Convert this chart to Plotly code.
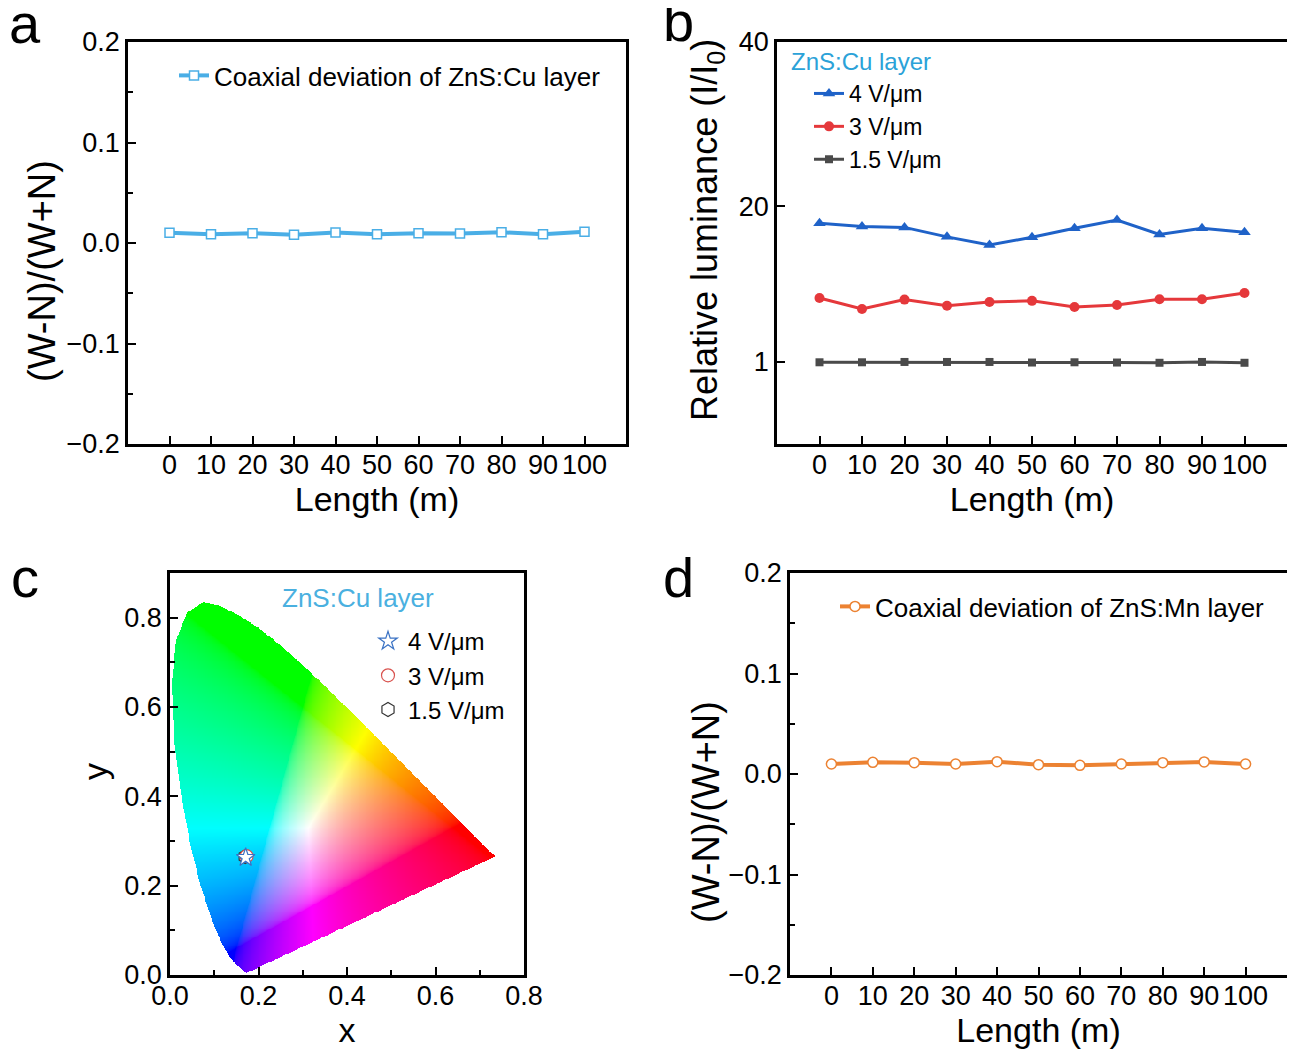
import numpy as np
import plotly.graph_objects as go

FONT = "Liberation Sans, Arial, sans-serif"
OFF = 8                       # page body margin of the html page
W, H = 1295 - OFF, 1054 - OFF

# ---------------- data ----------------
length_m = [0, 10, 20, 30, 40, 50, 60, 70, 80, 90, 100]
dev_cu = [0.0101, 0.0087, 0.0097, 0.0081, 0.0104, 0.0087, 0.0097, 0.0094, 0.0107, 0.0087, 0.0111]
dev_mn = [0.0100, 0.0116, 0.0113, 0.0100, 0.0123, 0.0093, 0.0086, 0.0100, 0.0113, 0.0120, 0.0100]
lum_4 = [17.9, 17.5, 17.4, 16.25, 15.25, 16.2, 17.3, 18.3, 16.55, 17.3, 16.8]
lum_3 = [8.8, 7.45, 8.6, 7.85, 8.3, 8.45, 7.7, 7.95, 8.65, 8.65, 9.4]
lum_15 = [0.96, 0.96, 1.0, 1.0, 1.0, 0.93, 0.96, 0.93, 0.9, 1.0, 0.9]
lum_ticks = [1, 20, 40]

cie_4_x, cie_4_y = [0.171], [0.263]
cie_3_x, cie_3_y = [0.173], [0.266]
cie_15_x, cie_15_y = [0.170], [0.265]

# CIE 1931 2-degree spectral locus (x, y), 380-700 nm in 5 nm steps
locus_x = [0.1741, 0.1740, 0.1738, 0.1736, 0.1733, 0.1730, 0.1726, 0.1721, 0.1714, 0.1703,
           0.1689, 0.1669, 0.1644, 0.1611, 0.1566, 0.1510, 0.1440, 0.1355, 0.1241, 0.1096,
           0.0913, 0.0687, 0.0454, 0.0235, 0.0082, 0.0039, 0.0139, 0.0389, 0.0743, 0.1142,
           0.1547, 0.1929, 0.2296, 0.2658, 0.3016, 0.3373, 0.3731, 0.4087, 0.4441, 0.4788,
           0.5125, 0.5448, 0.5752, 0.6029, 0.6270, 0.6482, 0.6658, 0.6801, 0.6915, 0.7006,
           0.7079, 0.7140, 0.7190, 0.7230, 0.7260, 0.7283, 0.7300, 0.7311, 0.7320, 0.7327,
           0.7334, 0.7340, 0.7344, 0.7346, 0.7347]
locus_y = [0.0050, 0.0050, 0.0049, 0.0049, 0.0048, 0.0048, 0.0048, 0.0048, 0.0051, 0.0058,
           0.0069, 0.0086, 0.0109, 0.0138, 0.0177, 0.0227, 0.0297, 0.0399, 0.0578, 0.0868,
           0.1327, 0.2007, 0.2950, 0.4127, 0.5384, 0.6548, 0.7502, 0.8120, 0.8338, 0.8262,
           0.8059, 0.7816, 0.7543, 0.7243, 0.6923, 0.6589, 0.6245, 0.5896, 0.5547, 0.5202,
           0.4866, 0.4544, 0.4242, 0.3965, 0.3725, 0.3514, 0.3340, 0.3197, 0.3083, 0.2993,
           0.2920, 0.2859, 0.2809, 0.2770, 0.2740, 0.2717, 0.2700, 0.2689, 0.2680, 0.2673,
           0.2666, 0.2660, 0.2656, 0.2654, 0.2653]

# ---------------- chromaticity background ----------------
dx = 0.002
dy = 0.002
nx = int(round(0.8 / dx))
ny = int(round(0.9 / dy))
gx = (np.arange(nx) + 0.5) * dx
gy = (np.arange(ny) + 0.5) * dy
PX, PY = np.meshgrid(gx, gy)
vx = np.array(locus_x)
vy = np.array(locus_y)
inside = np.zeros(PX.shape, dtype=bool)
n = len(vx)
for i in range(n):
    j = i - 1
    xi, yi, xj, yj = vx[i], vy[i], vx[j], vy[j]
    cond = ((yi > PY) != (yj > PY)) & (PX < (xj - xi) * (PY - yi) / (yj - yi + 1e-12) + xi)
    inside ^= cond
Xc = PX / PY
Yc = np.ones_like(PX)
Zc = (1 - PX - PY) / PY
R = 3.2406 * Xc - 1.5372 * Yc - 0.4986 * Zc
G = -0.9689 * Xc + 1.8758 * Yc + 0.0415 * Zc
B = 0.0557 * Xc - 0.2040 * Yc + 1.0570 * Zc
rgb = np.stack([R, G, B], axis=-1)
rgb = np.clip(rgb, 0, None)
mx = rgb.max(axis=-1, keepdims=True)
mx[mx == 0] = 1
rgb = rgb / mx
rgb = np.where(rgb <= 0.0031308, 12.92 * rgb, 1.055 * np.power(rgb, 1 / 2.4) - 0.055)
rgba = np.zeros((ny, nx, 4), dtype=np.uint8)
rgba[..., :3] = np.clip(rgb * 255, 0, 255).astype(np.uint8)
rgba[..., 3] = np.where(inside, 255, 0).astype(np.uint8)
rgba[~inside, :3] = 255

# ---------------- figure ----------------
fig = go.Figure()

c_cu = "#4aaee6"
c_blue = "#1f62c8"
c_red = "#e5383b"
c_gray = "#4a4a4a"
c_orange = "#ec8232"
c_title = "#2ba2d8"

# panel a
fig.add_trace(go.Scatter(
    x=length_m, y=dev_cu, mode="lines+markers", name="Coaxial deviation of ZnS:Cu layer",
    line=dict(color=c_cu, width=4),
    marker=dict(symbol="square", size=9, color="white", line=dict(color=c_cu, width=1.5)),
    xaxis="x", yaxis="y", legend="legend"))

# panel b
fig.add_trace(go.Scatter(
    x=length_m, y=lum_4, mode="lines+markers", name="4 V/μm",
    line=dict(color=c_blue, width=3),
    marker=dict(symbol="triangle-up", size=11, color=c_blue),
    xaxis="x2", yaxis="y2", legend="legend2"))
fig.add_trace(go.Scatter(
    x=length_m, y=lum_3, mode="lines+markers", name="3 V/μm",
    line=dict(color=c_red, width=3),
    marker=dict(symbol="circle", size=10, color=c_red),
    xaxis="x2", yaxis="y2", legend="legend2"))
fig.add_trace(go.Scatter(
    x=length_m, y=lum_15, mode="lines+markers", name="1.5 V/μm",
    line=dict(color=c_gray, width=3),
    marker=dict(symbol="square", size=8, color=c_gray),
    xaxis="x2", yaxis="y2", legend="legend2"))

# panel c
fig.add_trace(go.Image(
    z=rgba.tolist(), colormodel="rgba256", x0=dx / 2, dx=dx, y0=dy / 2, dy=dy,
    xaxis="x3", yaxis="y3", hoverinfo="skip"))
fig.add_trace(go.Scatter(
    x=cie_15_x, y=cie_15_y, mode="markers", name="1.5 V/μm",
    marker=dict(symbol="hexagon", size=14, color="white", line=dict(color="#333333", width=1.2)),
    xaxis="x3", yaxis="y3", legend="legend3", legendrank=3))
fig.add_trace(go.Scatter(
    x=cie_3_x, y=cie_3_y, mode="markers", name="3 V/μm",
    marker=dict(symbol="circle", size=13, color="white", line=dict(color="#d9534f", width=1.2)),
    xaxis="x3", yaxis="y3", legend="legend3", legendrank=2))
fig.add_trace(go.Scatter(
    x=cie_4_x, y=cie_4_y, mode="markers", name="4 V/μm",
    marker=dict(symbol="star", size=14, color="white", line=dict(color="#3a72c4", width=1.2)),
    xaxis="x3", yaxis="y3", legend="legend3", legendrank=1))

# panel d
fig.add_trace(go.Scatter(
    x=length_m, y=dev_mn, mode="lines+markers", name="Coaxial deviation of ZnS:Mn layer",
    line=dict(color=c_orange, width=4),
    marker=dict(symbol="circle", size=10, color="white", line=dict(color=c_orange, width=1.5)),
    xaxis="x4", yaxis="y4", legend="legend4"))


# screen pixel (in the 1295x1054 window) -> paper coordinate
def sx(p):
    return (p - OFF) / W


def sy(p):
    return 1 - (p - OFF) / H


def px_x(a, b):
    return [sx(a), sx(b)]


def px_y(top, bottom):
    return [sy(bottom), sy(top)]


base = dict(showline=True, linecolor="black", linewidth=2.5, mirror=True,
            ticks="inside", ticklen=8, tickwidth=2, tickcolor="black",
            showgrid=False, zeroline=False, automargin=False,
            tickfont=dict(family=FONT, size=27, color="black"))


def ax(**kw):
    d = dict(base)
    d.update(kw)
    return d


len_title = dict(text="Length (m)", font=dict(family=FONT, size=34, color="black"), standoff=4)
minor_dev = dict(ticks="inside", tickvals=[-0.15, -0.05, 0.05, 0.15], ticklen=5, tickwidth=2, tickcolor="black")
minor_cie = dict(ticks="inside", tickvals=[0.1, 0.3, 0.5, 0.7], ticklen=5, tickwidth=2, tickcolor="black")
dev_vals = [-0.2, -0.1, 0.0, 0.1, 0.2]
dev_text = ["\u22120.2", "\u22120.1", "0.0", "0.1", "0.2"]
cie_vals = [0, 0.2, 0.4, 0.6, 0.8]
cie_text = ["0.0", "0.2", "0.4", "0.6", "0.8"]

fig.update_layout(
    width=W, height=H, margin=dict(l=0, r=0, t=0, b=0, autoexpand=False),
    paper_bgcolor="white", plot_bgcolor="white",
    font=dict(family=FONT, color="black"),
    showlegend=True,
    xaxis=ax(domain=px_x(128, 626), range=[-10, 110], tickvals=length_m, anchor="y",
             ticklabelstandoff=-5, title=len_title),
    yaxis=ax(domain=px_y(42, 444), range=[-0.2, 0.2], tickvals=dev_vals, ticktext=dev_text,
             anchor="x", minor=minor_dev),
    xaxis2=ax(domain=px_x(777, 1287), range=[-10, 110], tickvals=length_m, anchor="y2",
              ticklabelstandoff=-5, title=len_title),
    yaxis2=ax(domain=px_y(42, 444), range=[-9, 40], tickvals=lum_ticks, anchor="x2"),
    xaxis3=ax(domain=px_x(170, 524), range=[0, 0.8], tickvals=cie_vals, ticktext=cie_text,
              anchor="y3", minor=minor_cie, ticklabelstandoff=-5,
              title=dict(text="x", font=dict(family=FONT, size=34, color="black"), standoff=4)),
    yaxis3=ax(domain=px_y(573, 975), range=[0, 0.9], autorange=False, tickvals=cie_vals,
              ticktext=cie_text, anchor="x3", scaleanchor=False, minor=minor_cie),
    xaxis4=ax(domain=px_x(790, 1287), range=[-10, 110], tickvals=length_m, anchor="y4",
              ticklabelstandoff=-5, title=len_title),
    yaxis4=ax(domain=px_y(573, 975), range=[-0.2, 0.2], tickvals=dev_vals, ticktext=dev_text,
              anchor="x4", minor=minor_dev),
    legend=dict(x=sx(174), y=sy(52), xanchor="left", yanchor="top", bgcolor="rgba(0,0,0,0)",
                font=dict(family=FONT, size=26, color="black")),
    legend2=dict(x=sx(809), y=sy(72), xanchor="left", yanchor="top", bgcolor="rgba(0,0,0,0)",
                 font=dict(family=FONT, size=23, color="black"), tracegroupgap=0),
    legend3=dict(x=sx(368), y=sy(619), xanchor="left", yanchor="top", bgcolor="rgba(0,0,0,0)",
                 font=dict(family=FONT, size=24, color="black")),
    legend4=dict(x=sx(835), y=sy(583), xanchor="left", yanchor="top", bgcolor="rgba(0,0,0,0)",
                 font=dict(family=FONT, size=26, color="black")),
)

# panel titles inside plots
fig.add_annotation(x=sx(789), y=sy(62), xref="paper", yref="paper", text="ZnS:Cu layer",
                   showarrow=False, font=dict(family=FONT, size=24, color=c_title),
                   xanchor="left", yanchor="middle")
fig.add_annotation(x=sx(358), y=sy(598), xref="paper", yref="paper", text="ZnS:Cu layer",
                   showarrow=False, font=dict(family=FONT, size=26, color="#4ab0e0"),
                   xanchor="center", yanchor="middle")

# y-axis titles
for txt, cx, cy, fs in [("(W-N)/(W+N)", 42, 271, 38),
                        ("Relative luminance (I/I<sub>0</sub>)", 707, 230, 36),
                        ("y", 95, 772, 34),
                        ("(W-N)/(W+N)", 706, 812, 38)]:
    fig.add_annotation(x=sx(cx), y=sy(cy), xref="paper", yref="paper", text=txt, textangle=-90,
                       showarrow=False, font=dict(family=FONT, size=fs, color="black"),
                       xanchor="center", yanchor="middle")

# panel letters
for lab, cx, cy in [("a", 25, 24), ("b", 678, 22), ("c", 25, 577), ("d", 678, 577)]:
    fig.add_annotation(x=sx(cx), y=sy(cy), xref="paper", yref="paper", text=lab,
                       showarrow=False, font=dict(family=FONT, size=56, color="black"),
                       xanchor="center", yanchor="middle")

fig.write_html("out.html")
